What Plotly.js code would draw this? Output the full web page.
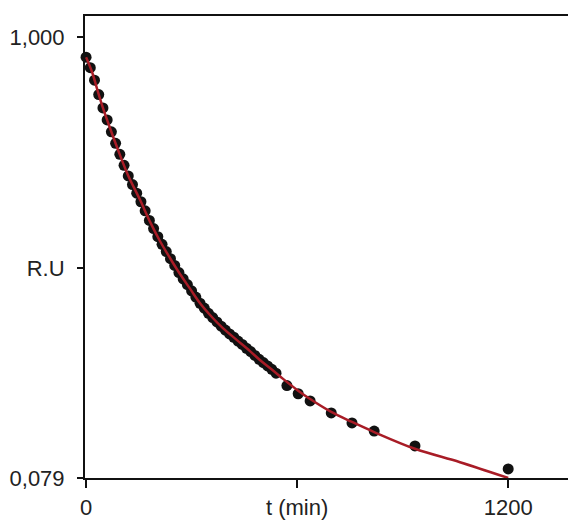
<!DOCTYPE html>
<html>
<head>
<meta charset="utf-8">
<script src="https://cdn.plot.ly/plotly-3.0.1.min.js"></script>
<style>html,body{margin:0;padding:0;background:#fff;}#chart{width:569px;height:520px;}</style>
</head>
<body>
<div id="chart"></div>
<script>
// Measured points (time in min, relative units)
var timeMin = [0,12,24,36,48,60,72,84,96,108,120,132,144,156,168,180,192,204,216,228,240,252,264,276,288,300,312,324,336,348,360,372,384,396,408,420,432,444,456,468,480,492,504,516,528,540,571,603,637,697,756,819,935,1200];
var relUnits = [0.958,0.936,0.910,0.880,0.852,0.827,0.802,0.778,0.755,0.732,0.710,0.692,0.674,0.656,0.637,0.617,0.600,0.583,0.567,0.552,0.537,0.523,0.508,0.495,0.483,0.470,0.457,0.444,0.434,0.423,0.414,0.405,0.396,0.388,0.380,0.373,0.365,0.358,0.350,0.343,0.335,0.327,0.320,0.313,0.306,0.298,0.272,0.255,0.240,0.215,0.194,0.177,0.146,0.098];

// Fitted decay curve
var fitTime = [0,17,34,48,68,91,119,154,182,210,239,267,296,324,353,389,429,466,495,529,560,600,637,697,756,819,935,1063,1200];
var fitValue = [0.958,0.927,0.885,0.852,0.810,0.764,0.712,0.659,0.614,0.574,0.538,0.505,0.474,0.444,0.419,0.392,0.367,0.344,0.325,0.305,0.286,0.263,0.244,0.217,0.196,0.175,0.140,0.112,0.079];

// Tick positions and labels
var xTickVals = [0, 600, 1200];
var xTickText = ['0', 't (min)', '1200'];
var yTickVals = [0.079, 0.518, 1.0];
var yTickText = ['0,079', 'R.U', '1,000'];

var traces = [
  {
    x: timeMin, y: relUnits, type: 'scatter', mode: 'markers',
    marker: {color: '#111111', size: 11},
    cliponaxis: false, showlegend: false, hoverinfo: 'x+y'
  },
  {
    x: fitTime, y: fitValue, type: 'scatter', mode: 'lines',
    line: {color: '#a81c26', width: 2.5, shape: 'spline', smoothing: 1},
    cliponaxis: false, showlegend: false, hoverinfo: 'x+y'
  }
];

var layout = {
  width: 569, height: 520,
  margin: {l: 85, r: 1, t: 16, b: 42},
  paper_bgcolor: '#ffffff', plot_bgcolor: '#ffffff',
  font: {family: 'Liberation Sans, Arial, sans-serif', size: 22, color: '#222222'},
  showlegend: false,
  xaxis: {
    range: [-3, 1370],
    tickvals: xTickVals, ticktext: xTickText,
    ticks: 'outside', ticklen: 8, tickwidth: 2, tickcolor: '#111111',
    showline: true, linecolor: '#111111', linewidth: 2, mirror: true,
    showgrid: false, zeroline: false,
    tickfont: {size: 22, color: '#222222'},
    ticklabelstandoff: 1
  },
  yaxis: {
    range: [0.079, 1.044],
    tickvals: yTickVals, ticktext: yTickText,
    ticks: 'outside', ticklen: 6, tickwidth: 2, tickcolor: '#111111',
    showline: true, linecolor: '#111111', linewidth: 2, mirror: false,
    showgrid: false, zeroline: false,
    tickfont: {size: 22, color: '#222222'},
    ticklabelstandoff: 8
  }
};

Plotly.newPlot('chart', traces, layout, {displayModeBar: false, staticPlot: true});
</script>
</body>
</html>
